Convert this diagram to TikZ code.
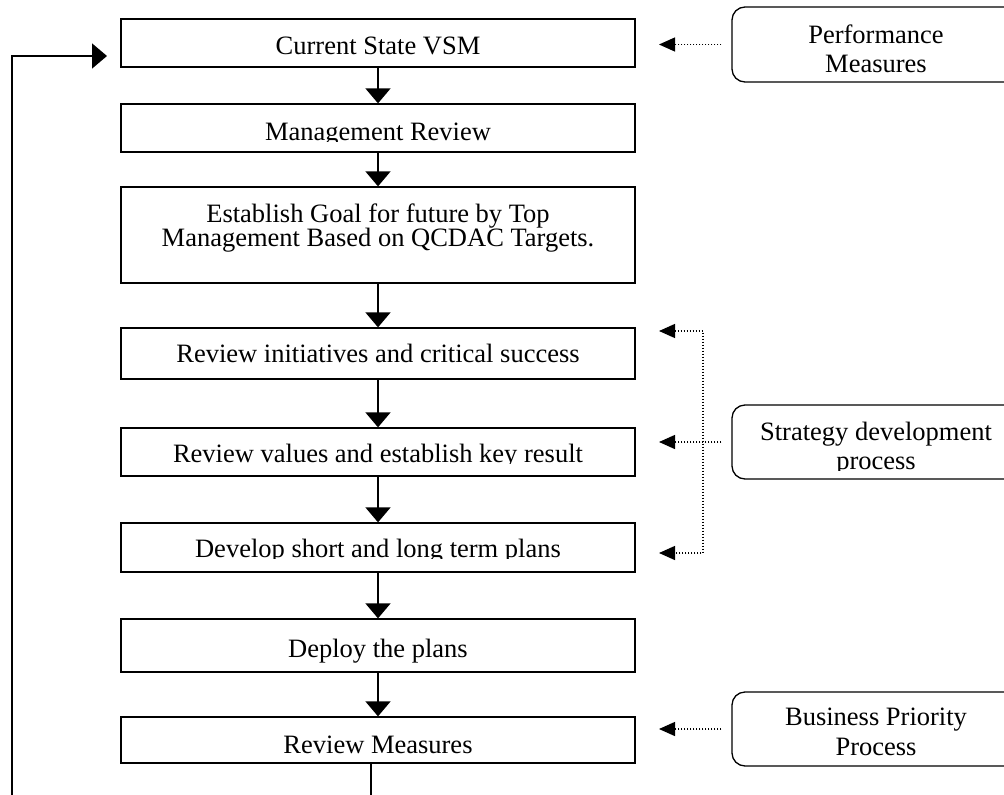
\documentclass[tikz,border=0pt]{standalone}
\usepackage{fontspec}
\setmainfont{Liberation Serif}
\usetikzlibrary{arrows.meta,calc}
\begin{document}
\begin{tikzpicture}[x=1pt,y=-1pt,
  box/.style={draw, line width=1.3pt, rectangle, minimum width=514pt, inner sep=0pt},
  rbox/.style={draw, line width=1.3pt, rounded corners=13pt, minimum width=288pt, minimum height=74pt, inner sep=0pt},
  lbl/.style={font=\fontsize{26.5}{24}\selectfont, inner sep=0pt, anchor=base},
  flow/.style={line width=1.6pt, -{Triangle[length=15pt,width=25pt]}},
  dotline/.style={line width=1.3pt, dash pattern=on 1.2pt off 1.8pt},
  dottip/.style={-{Triangle[length=16pt,width=14pt]}},
]
\useasboundingbox (0,0) rectangle (1004,795);
\clip (0,0) rectangle (1004,795);
\fill[white] (0,0) rectangle (1004,795);

% main boxes
\node[box, minimum height=48pt] (cur)    at (378,43)    {};
\node[box, minimum height=48pt] (mgmt)   at (378,128)   {};
\node[box, minimum height=96pt] (goal)   at (378,235)   {};
\node[box, minimum height=51pt] (rinit)  at (378,353.5) {};
\node[box, minimum height=48pt] (rval)   at (378,452)   {};
\node[box, minimum height=49pt] (dev)    at (378,547.5) {};
\node[box, minimum height=53pt] (deploy) at (378,645.5) {};
\node[box, minimum height=46pt] (rmeas)  at (378,740)   {};

% right boxes
\node[rbox, minimum height=75pt] (perf)  at (876,44.5) {};
\node[rbox] (strat) at (876,442) {};
\node[rbox] (bus)   at (876,729) {};

% labels
\node[lbl] (tcur) at (378,54) {Current State VSM};
\begin{scope}
  \clip (121,100) rectangle (635,141.5);
  \node[lbl] (tmgmt) at (378,140) {Management Review};
\end{scope}
\node[lbl] (tgoal1) at (378,222) {Establish Goal for future by Top};
\node[lbl] (tgoal2) at (378,246) {Management Based on QCDAC Targets.};
\node[lbl] (trinit) at (378,362) {Review initiatives and critical success};
\begin{scope}
  \clip (121,420) rectangle (635,463.5);
  \node[lbl] (trval) at (378,462) {Review values and establish key result};
\end{scope}
\begin{scope}
  \clip (121,520) rectangle (635,558.5);
  \node[lbl] (tdev) at (378,557) {Develop short and long term plans};
\end{scope}
\node[lbl] (tdeploy) at (378,657) {Deploy the plans};
\node[lbl] (trmeas) at (378,753) {Review Measures};

\node[lbl] (tperf1) at (876,43) {Performance};
\node[lbl] (tperf2) at (876,72) {Measures};
\node[lbl] (tstrat1) at (876,440) {Strategy development};
\begin{scope}
  \clip (732,445) rectangle (1004,470.5);
  \node[lbl] (tstrat2) at (876,469) {process};
\end{scope}
\node[lbl] (tbus1) at (876,725) {Business Priority};
\node[lbl] (tbus2) at (876,755) {Process};

% flow arrows
\draw[flow] (cur) -- (mgmt);
\draw[flow] (mgmt) -- (goal);
\draw[flow] (goal) -- (rinit);
\draw[flow] (rinit) -- (rval);
\draw[flow] (rval) -- (dev);
\draw[flow] (dev) -- (deploy);
\draw[flow] (deploy) -- (rmeas);

% feedback loop
\coordinate (rmout) at ($(rmeas.south)+(-7,0)$);
\coordinate (lb1) at (371,830);
\coordinate (lb2) at (12,830);
\coordinate (lb3) at (12,56);
\coordinate (fbin) at (107,56);
\draw[flow] (rmout) -- (lb1) -- (lb2) -- (lb3) -- (fbin);

% dotted inputs
\coordinate (sa) at (659,331);
\coordinate (sb) at (703,331);
\coordinate (sc) at (703,553);
\coordinate (sd) at (659,553);
\draw[dotline, dottip, shorten <=10pt] (perf.west) -- (sa |- perf.west);
\draw[dotline, dottip, shorten <=10pt] (strat.west) -- (sa |- strat.west);
\draw[dotline, {Triangle[length=16pt,width=14pt]}-{Triangle[length=16pt,width=14pt]}] (sa) -- (sb) -- (sc) -- (sd);
\draw[dotline, dottip, shorten <=10pt] (bus.west) -- (sa |- bus.west);
\end{tikzpicture}
\end{document}
